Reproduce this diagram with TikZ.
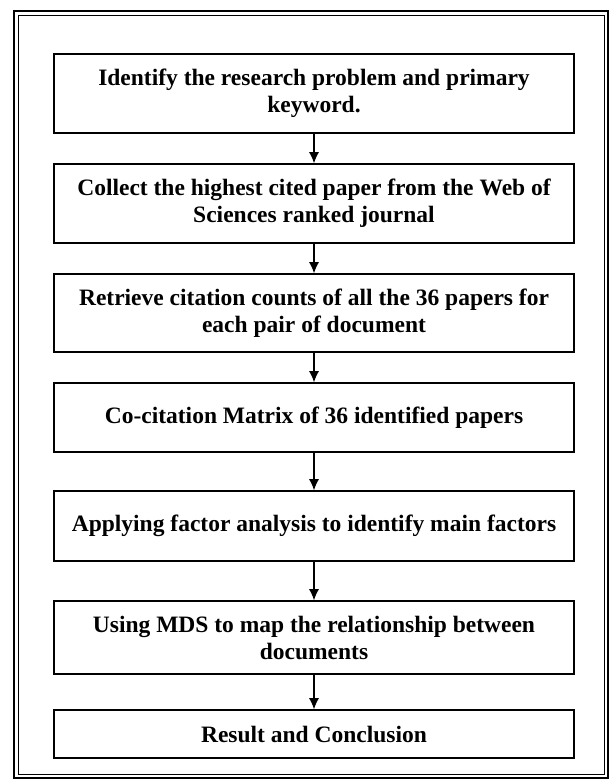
\documentclass[tikz,border=0pt]{standalone}
\usepackage{fontspec}
\setmainfont{Liberation Serif}
\usetikzlibrary{arrows.meta}

\begin{document}
\begin{tikzpicture}[x=1pt,y=-1pt,>={Latex[length=11pt,width=10pt]},
    stepbox/.style={draw,line width=1.6pt,minimum width=520pt,inner sep=0pt,align=center,
      font=\fontsize{23.5}{27}\selectfont\bfseries}]
    \useasboundingbox (0,0) rectangle (611,779);
    % double frame round the chart
    \draw[line width=2.5pt] (14,11) rectangle (608,778);
    \draw[line width=1pt] (18.5,15.5) rectangle (604.5,774);
    % the steps
    \node[stepbox,minimum height=79pt] (s1) at (314,93.5) {Identify the research problem and primary\\keyword.};
    \node[stepbox,minimum height=79pt] (s2) at (314,203.5) {Collect the highest cited paper from the Web of\\Sciences ranked journal};
    \node[stepbox,minimum height=78pt] (s3) at (314,313) {Retrieve citation counts of all the 36 papers for\\each pair of document};
    \node[stepbox,minimum height=69pt] (s4) at (314,417.5) {Co-citation Matrix of 36 identified papers};
    \node[stepbox,minimum height=70pt] (s5) at (314,526) {Applying factor analysis to identify main factors};
    \node[stepbox,minimum height=73pt] (s6) at (314,637.5) {Using MDS to map the relationship between\\documents};
    \node[stepbox,minimum height=48pt] (s7) at (314,734) {Result and Conclusion};
    % arrows between the steps
    \foreach \a/\b in {s1/s2,s2/s3,s3/s4,s4/s5,s5/s6,s6/s7}
    {
        \draw[->,line width=1.1pt] (\a) -- (\b);
    }
\end{tikzpicture}
\end{document}
